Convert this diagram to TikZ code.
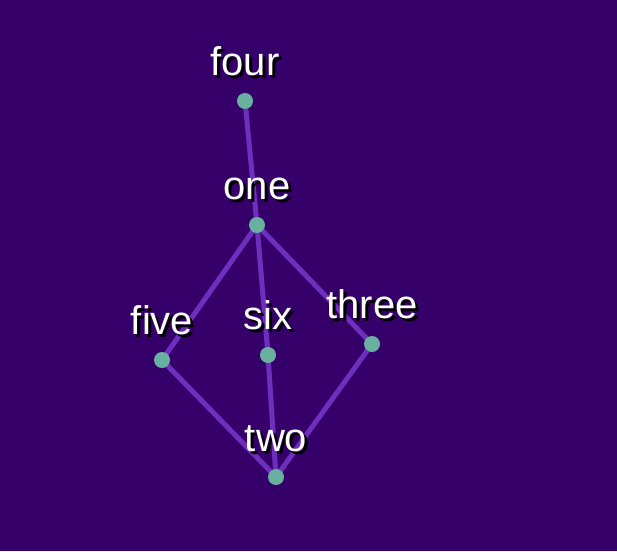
\documentclass[tikz,border=0pt]{standalone}
\usepackage{fontspec}
\setmainfont{Liberation Sans}
\usepackage{tikz}
\definecolor{bgpurple}{RGB}{53,0,106}
\definecolor{edgepurple}{RGB}{110,46,190}
\definecolor{dotteal}{RGB}{106,176,160}
\newcommand{\shadowed}[1]{\makebox[0pt][l]{\hspace{3pt}\raisebox{-3pt}{\color{black}#1}}#1}
\pgfdeclarelayer{bg}
\pgfdeclarelayer{edges}
\pgfsetlayers{bg,edges,main}

\begin{document}
\begin{tikzpicture}[x=1pt,y=-1pt,
dot/.style={circle,fill=dotteal,minimum size=16pt,inner sep=0pt},
link/.style={draw=edgepurple,line width=5pt},
every label/.style={text=white,font=\fontsize{40}{44}\selectfont,label distance=10pt}]
\begin{pgfonlayer}{bg}
\fill[bgpurple] (0,0) rectangle (617,551);
\end{pgfonlayer}
\useasboundingbox (0,0) rectangle (617,551);

\node (four)  [dot,label=above:\shadowed{four}]  at (245,101) {};
\node (one)   [dot,label=above:\shadowed{one}]   at (257,225) {};
\node (five)  [dot,label=above:\shadowed{five}]  at (162,360) {};
\node (six)   [dot,label=above:\shadowed{six}]   at (268,355) {};
\node (three) [dot,label=above:\shadowed{three}] at (372,344) {};
\node (two)   [dot,label=above:\shadowed{two}]   at (276,477) {};

\begin{pgfonlayer}{edges}
\draw[link] (four.center) -- (one.center);
\draw[link] (one.center) -- (five.center);
\draw[link] (one.center) -- (six.center);
\draw[link] (one.center) -- (three.center);
\draw[link] (five.center) -- (two.center);
\draw[link] (six.center) -- (two.center);
\draw[link] (three.center) -- (two.center);
\end{pgfonlayer}
\end{tikzpicture}
\end{document}
